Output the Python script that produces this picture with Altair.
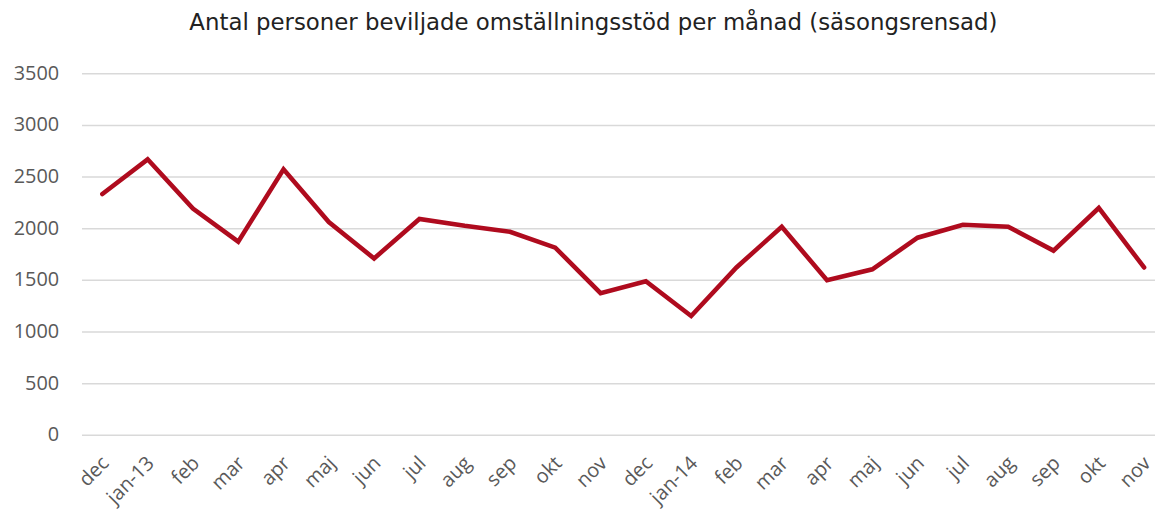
import altair as alt
import pandas as pd
import json

months = ["dec", "jan-13", "feb", "mar", "apr", "maj", "jun", "jul", "aug", "sep", "okt", "nov",
          "dec", "jan-14", "feb", "mar", "apr", "maj", "jun", "jul", "aug", "sep", "okt", "nov"]
values = [2331, 2667, 2190, 1870, 2570, 2060, 1707, 2090, 2023, 1966, 1812, 1371,
          1486, 1150, 1620, 2014, 1496, 1602, 1908, 2033, 2014, 1783, 2196, 1620]
y_ticks = [0, 500, 1000, 1500, 2000, 2500, 3000, 3500]

df = pd.DataFrame({"idx": list(range(len(months))), "month": months, "value": values})

label_expr = json.dumps(months) + "[datum.value]"

chart = alt.Chart(df).mark_line(
    color="#AF0B1E", strokeWidth=4.6, strokeCap="round", strokeJoin="miter"
).encode(
    x=alt.X("idx:Q",
            scale=alt.Scale(domain=[-0.4605, 23.241], nice=False, zero=False),
            axis=alt.Axis(values=list(range(len(months))), labelExpr=label_expr, title=None,
                          grid=False, domain=False, ticks=False, labelAngle=-45,
                          labelAlign="right", labelBaseline="top", labelPadding=18,
                          labelOffset=-4,
                          labelOverlap=False, labelBound=False, labelFlush=False,
                          labelFont="Open Sans", labelFontSize=20, labelColor="#595959")),
    y=alt.Y("value:Q",
            scale=alt.Scale(domain=[0, 3500], nice=False),
            axis=alt.Axis(values=y_ticks, format="d", title=None, domain=False, ticks=False,
                          gridColor="#D9D9D9", gridWidth=1.5, labelPadding=23,
                          labelFont="Open Sans", labelFontSize=20, labelColor="#595959")),
).properties(
    width=1081,
    height=364,
    autosize=alt.AutoSizeParams(type="none"),
    padding={"left": 74, "top": 64, "right": 0, "bottom": 74},
    title=alt.TitleParams(
        "Antal personer beviljade omställningsstöd per månad (säsongsrensad)",
        font="DejaVu Sans", fontSize=23, fontWeight="normal", color="#222222",
        anchor="middle", dx=-25, baseline="alphabetic", offset=11,
    ),
).configure_view(stroke=None)

chart.save("out.html", embed_options={"renderer": "svg", "actions": False})
